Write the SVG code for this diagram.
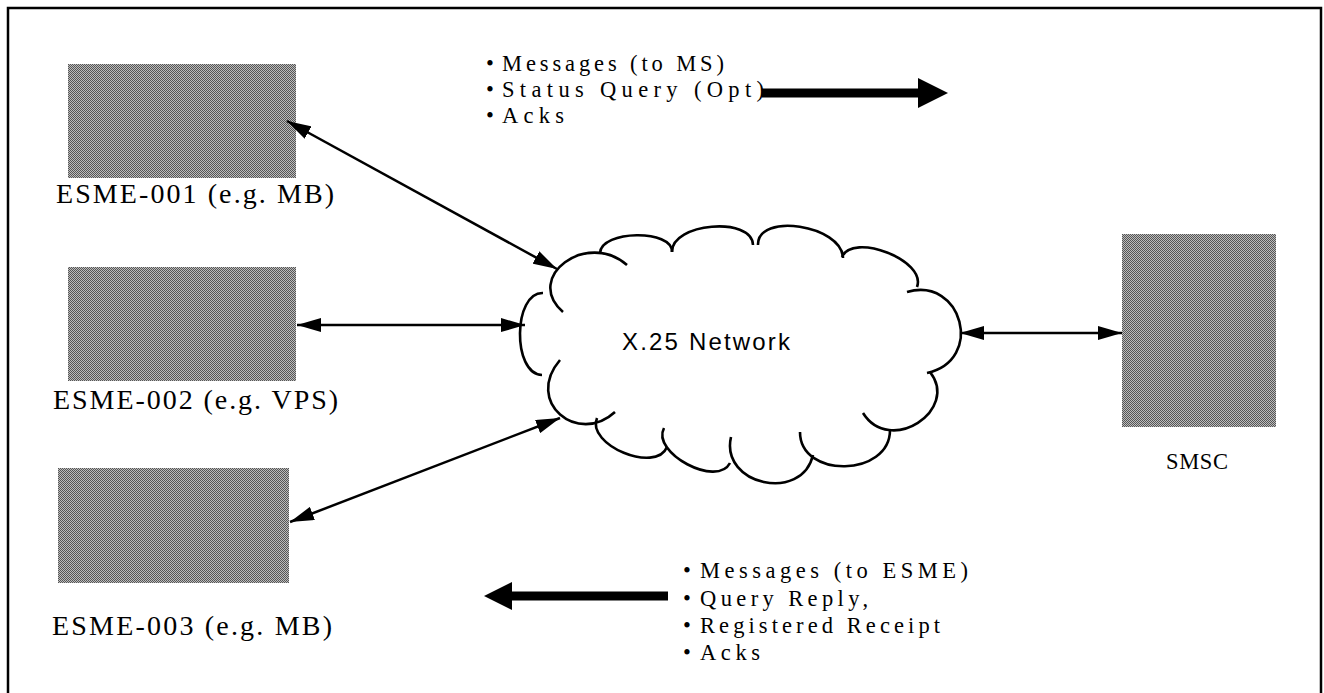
<svg xmlns="http://www.w3.org/2000/svg" width="1324" height="693" viewBox="0 0 1324 693">
<defs>
<pattern id="dots" x="0" y="0" width="2" height="2" patternUnits="userSpaceOnUse">
<rect width="2" height="2" fill="#bcbcbc"/>
<rect width="1" height="1" fill="#555555"/>
<rect x="1" y="1" width="1" height="1" fill="#555555"/>
</pattern>
<marker id="ah" viewBox="0 0 24 14" refX="24" refY="7" markerWidth="24" markerHeight="14" markerUnits="userSpaceOnUse" orient="auto-start-reverse">
<path d="M0,0 L24,7 L0,14 z" fill="#000"/>
</marker>
</defs>
<style>
.box{fill:url(#dots);}
.lbl{font-family:"Liberation Serif","Times New Roman",serif;font-size:28px;fill:#000;}
.bul{font-family:"Liberation Serif","Times New Roman",serif;font-size:22.5px;fill:#000;}
.net{font-family:"Liberation Sans",Arial,sans-serif;font-size:24px;fill:#000;}
.lobe{fill:none;stroke:#000;stroke-width:2.6;}
.conn{fill:none;stroke:#000;stroke-width:2.5;}
.thick{fill:none;stroke:#000;stroke-width:9;}
</style>
<rect x="0" y="0" width="1324" height="693" fill="#fff"/>
<path d="M8,700 L8,8 L1321,8 L1321,700" fill="none" stroke="#000" stroke-width="2.5"/>

<g id="esme001">
<rect class="box" x="68" y="64" width="228" height="114"/>
<text class="lbl" x="56" y="203" textLength="278" lengthAdjust="spacing">ESME-001 (e.g. MB)</text>
</g>
<g id="esme002">
<rect class="box" x="68" y="267" width="228" height="114"/>
<text class="lbl" x="53" y="409" textLength="285" lengthAdjust="spacing">ESME-002 (e.g. VPS)</text>
</g>
<g id="esme003">
<rect class="box" x="58" y="468" width="231" height="115"/>
<text class="lbl" x="52" y="635" textLength="280" lengthAdjust="spacing">ESME-003 (e.g. MB)</text>
</g>
<g id="smsc">
<rect class="box" x="1122" y="234" width="154" height="193"/>
<text class="bul" font-size="23" x="1166" y="469" textLength="62" lengthAdjust="spacing">SMSC</text>
</g>

<g id="network">
<path class="lobe" d="M563,312 C523,277 587,230 627,265"/>
<path class="lobe" d="M600,253 C601,230 673,229 672,252"/>
<path class="lobe" d="M672,252 C671,223 752,216 753,245"/>
<path class="lobe" d="M758,245 C757,212 842,225 843,258"/>
<path class="lobe" d="M842,257 C852,232 927,260 917,287"/>
<path class="lobe" d="M907,292 C962,276 985,360 927,373"/>
<path class="lobe" d="M930,372 C960,410 890,456 863,413"/>
<path class="lobe" d="M890,430 C890,477 800,479 800,432"/>
<path class="lobe" d="M813,455 C802,503 720,485 731,437"/>
<path class="lobe" d="M730,463 C717,488 651,453 664,428"/>
<path class="lobe" d="M667,447 C656,474 586,445 597,418"/>
<path class="lobe" d="M615,412 C578,446 524,402 560,360"/>
<path class="lobe" d="M542,375 C512,374 513,292 543,293"/>
<text class="net" x="622" y="350" textLength="168" lengthAdjust="spacing">X.25 Network</text>
</g>

<g id="connectors">
<line class="conn" x1="287" y1="121" x2="557" y2="269" marker-start="url(#ah)" marker-end="url(#ah)"/>
<line class="conn" x1="297" y1="325" x2="525" y2="325" marker-start="url(#ah)" marker-end="url(#ah)"/>
<line class="conn" x1="290" y1="522" x2="560" y2="418" marker-start="url(#ah)" marker-end="url(#ah)"/>
<line class="conn" x1="960" y1="333" x2="1122" y2="333" marker-start="url(#ah)" marker-end="url(#ah)"/>
</g>

<g id="to-ms">
<text class="bul" x="486" y="71">•</text>
<text class="bul" x="502" y="71" textLength="222" lengthAdjust="spacing">Messages (to MS)</text>
<text class="bul" x="486" y="97">•</text>
<text class="bul" x="502" y="97" textLength="262" lengthAdjust="spacing">Status Query  (Opt)</text>
<text class="bul" x="486" y="123">•</text>
<text class="bul" x="502" y="123" textLength="62" lengthAdjust="spacing">Acks</text>
<line class="thick" x1="762" y1="93" x2="920" y2="93"/>
<polygon points="918,78 948,93 918,108" fill="#000"/>
</g>

<g id="to-esme">
<text class="bul" x="683" y="578">•</text>
<text class="bul" x="700" y="578" textLength="268" lengthAdjust="spacing">Messages (to ESME)</text>
<text class="bul" x="683" y="606">•</text>
<text class="bul" x="700" y="606" textLength="168" lengthAdjust="spacing">Query  Reply,</text>
<text class="bul" x="683" y="633">•</text>
<text class="bul" x="700" y="633" textLength="240" lengthAdjust="spacing">Registered Receipt</text>
<text class="bul" x="683" y="660">•</text>
<text class="bul" x="700" y="660" textLength="60" lengthAdjust="spacing">Acks</text>
<line class="thick" x1="510" y1="596" x2="668" y2="596"/>
<polygon points="512,582 484,596 512,610" fill="#000"/>
</g>
</svg>
